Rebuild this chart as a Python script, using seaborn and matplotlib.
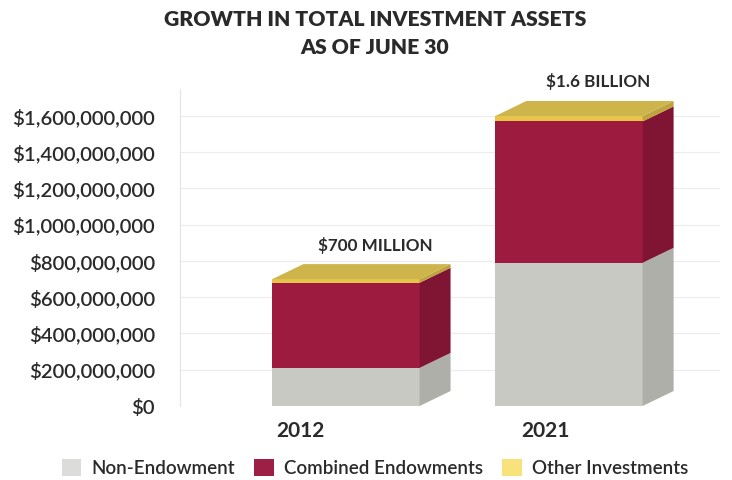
import matplotlib
matplotlib.use("Agg")
import matplotlib.pyplot as plt
from matplotlib.patches import Patch, Polygon
from matplotlib.transforms import ScaledTranslation
import matplotlib.ticker as mticker
import seaborn as sns

# Investment assets as of June 30 (USD)
years = ["2012", "2021"]
non_endowment = [210e6, 790e6]
combined_endowments = [470e6, 780e6]
other_investments = [20e6, 30e6]
total_labels = ["$700 MILLION", "$1.6 BILLION"]
series_names = ["Non-Endowment", "Combined Endowments", "Other Investments"]
y_ticks = [0, 200e6, 400e6, 600e6, 800e6, 1000e6, 1200e6, 1400e6, 1600e6]

# front / side / legend colours per series
front_colors = ["#c8c9c3", "#9e1b40", "#e6c54a"]
side_colors = ["#aeafa9", "#7f1533", "#bfa33c"]
top_color = "#cdb54c"
legend_colors = ["#dcdcda", "#9e1f45", "#f8e27c"]

sns.set_theme(style="white")
plt.rcParams["font.family"] = ["Lato", "DejaVu Sans"]
text_color = "#2a2a2a"

fig = plt.figure(figsize=(7.32, 4.80), dpi=100)
W, H = 732, 480
ax = fig.add_axes([180 / W, (H - 406) / H, 540 / W, 317.2 / H])

bar_width = 0.66
bottoms = [0.0, 0.0]
stack = [non_endowment, combined_endowments, other_investments]
for vals, col in zip(stack, front_colors):
    sns.barplot(x=years, y=vals, color=col, saturation=1, width=bar_width,
                bottom=bottoms, errorbar=None, ax=ax, linewidth=0, zorder=3)
    bottoms = [b + v for b, v in zip(bottoms, vals)]
totals = bottoms

xlim = (-0.744, 1.677)
ylim = (0, 1.75e9)
ax.set_xlim(*xlim)
ax.set_ylim(*ylim)

# pixel → data conversion for the box depth
ax_w_px = 540
ax_h_px = 317.2
dx = 31 * (xlim[1] - xlim[0]) / ax_w_px
dy = 15 * (ylim[1] - ylim[0]) / ax_h_px

rects = [p for p in ax.patches]
n = len(years)
for i, r in enumerate(rects):
    series = i // n
    x0, y0 = r.get_x(), r.get_y()
    w, h = r.get_width(), r.get_height()
    x1 = x0 + w
    side = Polygon([(x1, y0), (x1 + dx, y0 + dy), (x1 + dx, y0 + h + dy), (x1, y0 + h)],
                   closed=True, facecolor=side_colors[series], edgecolor="none", zorder=3)
    ax.add_patch(side)
    if series == len(stack) - 1:
        yt = y0 + h
        top = Polygon([(x0, yt), (x0 + dx, yt + dy), (x1 + dx, yt + dy), (x1, yt)],
                      closed=True, facecolor=top_color, edgecolor="none", zorder=3)
        ax.add_patch(top)

# total labels above each box
for i, lab in enumerate(total_labels):
    ax.text(i + dx / 2 + 0.06, totals[i] + dy + 105e6, lab, ha="center", va="center",
            fontsize=12.3, fontweight="bold", color=text_color, clip_on=False, zorder=5,
            bbox=dict(facecolor="white", edgecolor="none", alpha=0.8, pad=1.5))

# axes styling
ax.set_yticks(y_ticks)
ax.yaxis.set_major_formatter(mticker.FuncFormatter(lambda v, p: f"${v:,.0f}"))
ax.tick_params(axis="y", length=0, pad=18, labelsize=14.6, labelcolor=text_color)
ax.tick_params(axis="x", length=0, pad=11, labelsize=15, labelcolor=text_color)
for lab in ax.get_yticklabels():
    lab.set_fontweight("semibold")
for lab, shift in zip(ax.get_xticklabels(), [-46, -24]):
    lab.set_fontweight("bold")
    lab.set_transform(lab.get_transform() + ScaledTranslation(shift / 100, 0, fig.dpi_scale_trans))
ax.set_xlabel("")
ax.grid(axis="y", color="#ececec", linewidth=0.8, zorder=0)
for s in ["top", "right", "bottom"]:
    ax.spines[s].set_visible(False)
ax.spines["left"].set_color("#e4e4e4")
ax.spines["left"].set_linewidth(0.8)

fig.text(375 / W, 1 - 20 / H, "GROWTH IN TOTAL INVESTMENT ASSETS", ha="center", va="center",
         fontsize=15.2, fontweight="heavy", color=text_color)
fig.text(375 / W, 1 - 47 / H, "AS OF JUNE 30", ha="center", va="center",
         fontsize=15.2, fontweight="heavy", color=text_color)

handles = [Patch(facecolor=c, edgecolor="none", label=nm) for c, nm in zip(legend_colors, series_names)]
leg = fig.legend(handles=handles, loc="center", bbox_to_anchor=(375 / W, 1 - 468 / H), ncol=3,
                 frameon=False, fontsize=13.5, handlelength=1.05, handleheight=1.05,
                 handletextpad=0.55, columnspacing=1.0, labelcolor=text_color)
for t in leg.get_texts():
    t.set_fontweight("semibold")

fig.savefig("out.png", dpi=100, facecolor="white")
